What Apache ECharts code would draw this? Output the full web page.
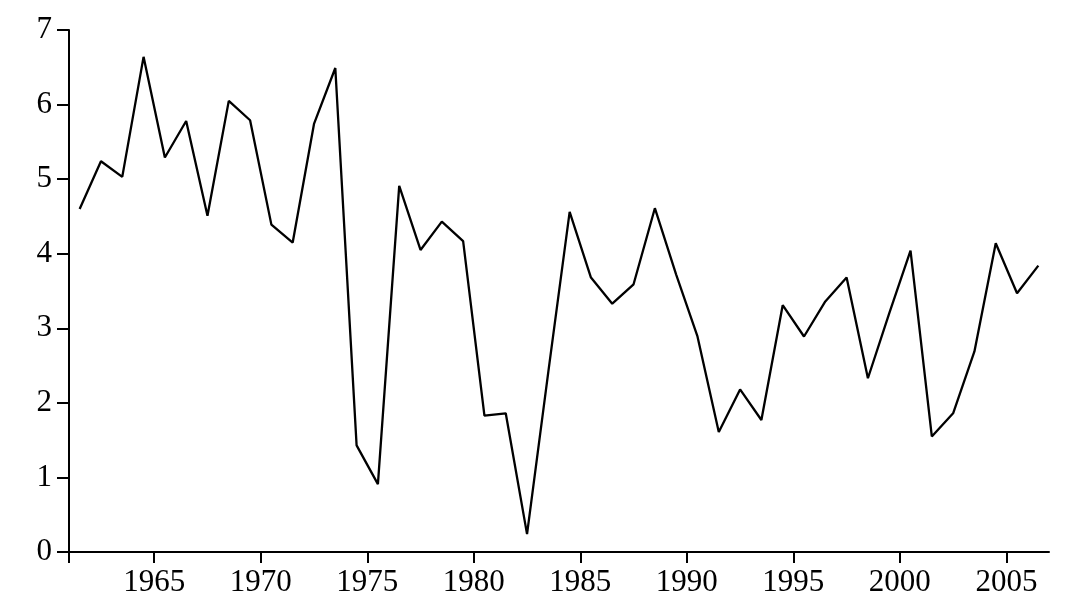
<!DOCTYPE html>
<html>
<head>
<meta charset="utf-8">
<script src="https://cdn.jsdelivr.net/npm/echarts@6/dist/echarts.min.js"></script>
<style>
html,body{margin:0;padding:0;background:#fff;}
#chart{width:1072px;height:614px;}
</style>
</head>
<body>
<div id="chart"></div>
<script>
const years = [1961,1962,1963,1964,1965,1966,1967,1968,1969,1970,
  1971,1972,1973,1974,1975,1976,1977,1978,1979,1980,
  1981,1982,1983,1984,1985,1986,1987,1988,1989,1990,
  1991,1992,1993,1994,1995,1996,1997,1998,1999,2000,
  2001,2002,2003,2004,2005,2006];
const values = [4.60,5.24,5.03,6.64,5.29,5.78,4.51,6.05,5.79,4.39,
  4.15,5.74,6.49,1.43,0.91,4.91,4.05,4.43,4.17,1.83,
  1.86,0.24,2.42,4.56,3.68,3.33,3.59,4.61,3.72,2.89,
  1.61,2.18,1.77,3.31,2.89,3.36,3.68,2.33,3.20,4.04,
  1.55,1.86,2.69,4.14,3.47,3.84];
const xTickValues = [1961,1965,1970,1975,1980,1985,1990,1995,2000,2005];
const xLabelValues = [1965,1970,1975,1980,1985,1990,1995,2000,2005];

const chart = echarts.init(document.getElementById('chart'), null, {renderer:'canvas'});
const font = 'Liberation Serif';
chart.setOption({
  backgroundColor:'#fff',
  animation:false,
  grid:{left:69,right:23,top:30,bottom:62},
  xAxis:{
    type:'value', min:1961, max:2007,
    axisLine:{lineStyle:{color:'#000',width:2}},
    axisTick:{show:true,length:11,lineStyle:{color:'#000',width:2},customValues:xTickValues},
    axisLabel:{color:'#000',fontSize:31,fontFamily:font,margin:15,customValues:xLabelValues,
      formatter:v=>String(v)},
    splitLine:{show:false}
  },
  yAxis:{
    type:'value', min:0, max:7, interval:1,
    axisLine:{show:true,lineStyle:{color:'#000',width:2}},
    axisTick:{show:true,length:12,lineStyle:{color:'#000',width:2}},
    axisLabel:{color:'#000',fontSize:31,fontFamily:font,margin:17},
    splitLine:{show:false}
  },
  series:[{
    type:'line',
    data: years.map((y,i)=>[y+0.5, values[i]]),
    showSymbol:false,
    lineStyle:{color:'#000',width:2.3},
    clip:false
  }]
});
</script>
</body>
</html>
